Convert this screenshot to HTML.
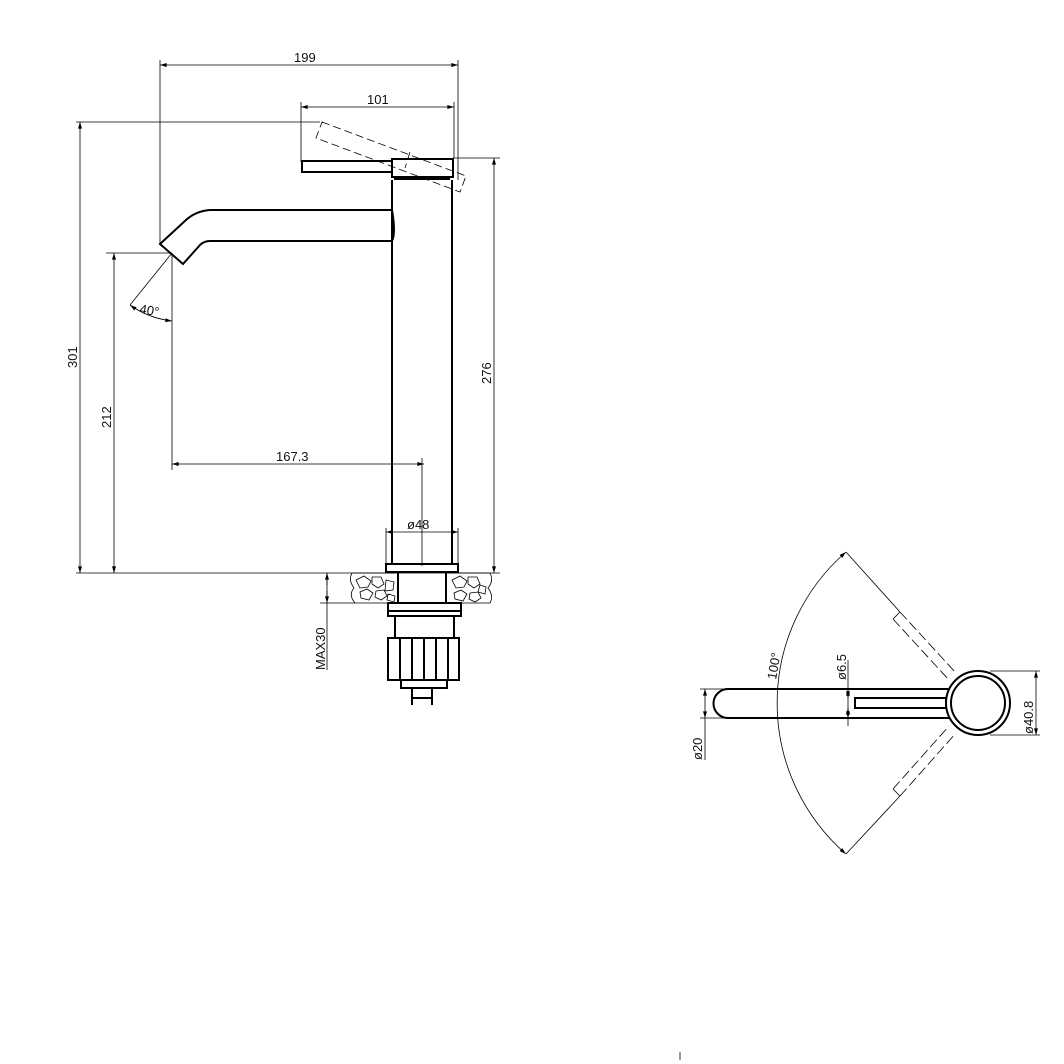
<!DOCTYPE html>
<html><head><meta charset="utf-8"><style>
html,body{margin:0;padding:0;background:#fff;}
svg{display:block;}
text{font-family:"Liberation Sans",sans-serif;font-size:13px;fill:#111;}
</style></head><body>
<svg width="1064" height="1064" viewBox="0 0 1064 1064" xmlns="http://www.w3.org/2000/svg">
<defs>
<marker id="a" viewBox="0 0 10 6" refX="10" refY="3" markerWidth="10" markerHeight="4" orient="auto-start-reverse" markerUnits="userSpaceOnUse"><path d="M0,0 L10,3 L0,6z" fill="#000"/></marker>
</defs>
<g stroke="#000" fill="none">
<!-- thin dimension lines -->
<g stroke-width="0.8">
<line x1="160" y1="60" x2="160" y2="244"/>
<line x1="458" y1="60" x2="458" y2="180"/>
<line x1="160" y1="65" x2="458" y2="65" marker-start="url(#a)" marker-end="url(#a)"/>
<line x1="301" y1="102" x2="301" y2="162"/>
<line x1="454" y1="102" x2="454" y2="158"/>
<line x1="301" y1="107" x2="454" y2="107" marker-start="url(#a)" marker-end="url(#a)"/>
<line x1="76" y1="122" x2="320" y2="122"/>
<line x1="80" y1="122" x2="80" y2="573" marker-start="url(#a)" marker-end="url(#a)"/>
<line x1="106" y1="253" x2="172" y2="253"/>
<line x1="114" y1="253" x2="114" y2="573" marker-start="url(#a)" marker-end="url(#a)"/>
<line x1="453" y1="158" x2="500" y2="158"/>
<line x1="494" y1="158" x2="494" y2="573" marker-start="url(#a)" marker-end="url(#a)"/>
<line x1="76" y1="573" x2="500" y2="573"/>
<line x1="172" y1="253" x2="172" y2="470"/>
<line x1="172" y1="464" x2="424" y2="464" marker-start="url(#a)" marker-end="url(#a)"/>
<line x1="422" y1="458" x2="422" y2="566"/>
<line x1="386" y1="528" x2="386" y2="564"/>
<line x1="458" y1="528" x2="458" y2="564"/>
<line x1="386" y1="532" x2="458" y2="532" marker-start="url(#a)" marker-end="url(#a)"/>
<line x1="320" y1="603" x2="355" y2="603"/>
<line x1="327" y1="573" x2="327" y2="670"/>
<line x1="327" y1="585" x2="327" y2="573" marker-end="url(#a)"/>
<line x1="327" y1="591" x2="327" y2="603" marker-end="url(#a)"/>
<!-- 40 deg -->
<line x1="172" y1="253" x2="130" y2="305"/>
<path d="M130,305 Q148,318 172,321" marker-start="url(#a)" marker-end="url(#a)"/>
<!-- dashed rotated handle -->
<g stroke-dasharray="8,4">
<path d="M322,122 L466,176 L460,192 L316,138 Z"/>
<path d="M410,152 L405,168"/>
</g>
</g>
<!-- thick outlines -->
<g stroke-width="2">
<rect x="302" y="161" width="90" height="11"/>
<rect x="392" y="159" width="61" height="18"/>
<line x1="392" y1="180" x2="392" y2="564"/>
<line x1="452" y1="180" x2="452" y2="564"/>
<line x1="394" y1="179" x2="450" y2="179"/>
<path d="M160,244 L183,264 L200,245 Q204,241 210,241 L392,241 Q396,233 392,210 L210,210 Q196,211 186,220 Z"/>
<rect x="386" y="564" width="72" height="8"/>
<line x1="398" y1="572" x2="398" y2="602"/>
<line x1="446" y1="572" x2="446" y2="602"/>
<rect x="388" y="603" width="73" height="13"/>
<line x1="388" y1="611" x2="461" y2="611"/>
<path d="M395,616 L395,638 M454,616 L454,638"/>
<rect x="388" y="638" width="71" height="42"/>
<path d="M400,638 V680 M412,638 V680 M424,638 V680 M436,638 V680 M448,638 V680"/>
<rect x="401" y="680" width="46" height="8"/>
<rect x="412" y="688" width="20" height="10"/>
<path d="M412,698 V705 M432,698 V705"/>
</g>
<!-- countertop -->
<g stroke-width="0.8">
<path d="M352,573 L398,573 L398,603 L355,603 Q348,595 354,588 Q348,580 352,573 Z"/>
<path d="M446,573 L490,573 Q494,581 488,588 Q494,596 490,603 L446,603 Z"/>
<path d="M356,580 l8,-4 l7,5 l-3,6 l-8,1 z M372,577 l9,0 l3,7 l-6,4 l-6,-4 z M386,580 l8,2 l-1,8 l-8,1 z M360,592 l7,-3 l6,4 l-4,7 l-8,-2 z M376,591 l8,-1 l3,6 l-6,4 l-6,-3 z M388,594 l7,2 l-1,6 l-7,-2 z"/>
<path d="M452,580 l8,-4 l7,5 l-3,6 l-8,1 z M468,577 l9,0 l3,7 l-6,4 l-6,-4 z M480,585 l6,2 l-1,7 l-7,-2 z M454,593 l7,-3 l6,4 l-4,7 l-8,-2 z M470,593 l8,-1 l3,6 l-6,4 l-6,-3 z"/>
</g>
<!-- top view -->
<g stroke-width="2">
<path d="M728,689 L950,689 M728,718 L950,718 M728,689 A14.5,14.5 0 0 0 728,718"/>
<rect x="855" y="698" width="91" height="10"/>
<circle cx="978" cy="703" r="32"/>
<circle cx="978" cy="703" r="27"/>
</g>
<g stroke-width="0.8">
<path d="M846,552 A200,200 0 0 0 846,854" marker-start="url(#a)" marker-end="url(#a)"/>
<line x1="846" y1="552" x2="900" y2="612"/>
<line x1="846" y1="854" x2="900" y2="796"/>
<g stroke-dasharray="10,4">
<path d="M900,612 L956,673 M893,619 L949,680 M900,612 L893,619"/>
<path d="M900,796 L956,733 M893,789 L949,726 M900,796 L893,789"/>
</g>
<line x1="848" y1="660" x2="848" y2="726"/>
<line x1="848" y1="689" x2="848" y2="698" marker-end="url(#a)" marker-start="url(#a)"/>
<line x1="848" y1="708" x2="848" y2="718" marker-end="url(#a)" marker-start="url(#a)"/>
<line x1="700" y1="689" x2="728" y2="689"/>
<line x1="700" y1="718" x2="728" y2="718"/>
<line x1="705" y1="689" x2="705" y2="718" marker-start="url(#a)" marker-end="url(#a)"/>
<line x1="705" y1="718" x2="705" y2="760"/>
<line x1="990" y1="671" x2="1040" y2="671"/>
<line x1="990" y1="735" x2="1040" y2="735"/>
<line x1="1036" y1="671" x2="1036" y2="735" marker-start="url(#a)" marker-end="url(#a)"/>
<line x1="680" y1="1052" x2="680" y2="1060"/>
</g>
</g>
<text x="294" y="62">199</text>
<text x="367" y="104">101</text>
<text x="276" y="461">167.3</text>
<text x="407" y="529">ø48</text>
<text transform="translate(77,368) rotate(-90)">301</text>
<text transform="translate(111,428) rotate(-90)">212</text>
<text transform="translate(491,384) rotate(-90)">276</text>
<text transform="translate(325,670) rotate(-90)">MAX30</text>
<text transform="translate(139,313) rotate(10)">40°</text>
<text transform="translate(776,680) rotate(-80)">100°</text>
<text transform="translate(846,680) rotate(-90)">ø6.5</text>
<text transform="translate(702,760) rotate(-90)">ø20</text>
<text transform="translate(1033,734) rotate(-90)">ø40.8</text>
</svg>
</body></html>
